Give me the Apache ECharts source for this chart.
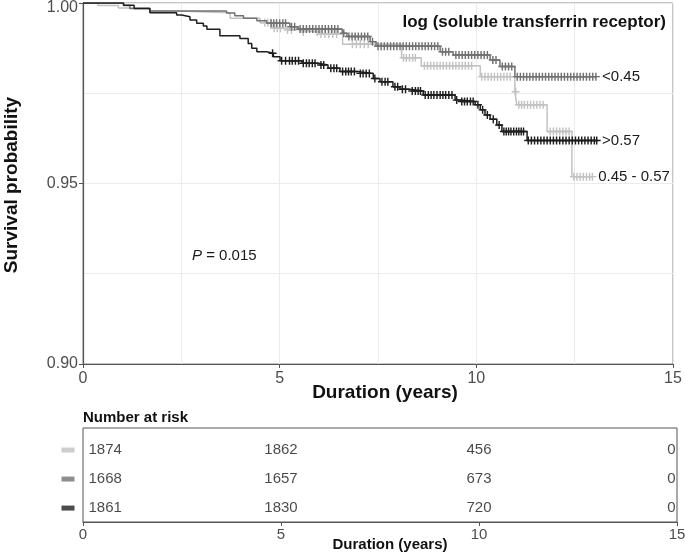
<!DOCTYPE html>
<html><head><meta charset="utf-8">
<script src="https://cdn.jsdelivr.net/npm/echarts@6/dist/echarts.min.js"></script>
<style>html,body{margin:0;padding:0;background:#fff}#c{width:685px;height:553px}</style>
</head><body><div id="c"></div>
<script>
// ---------- DATA ----------
const groupNames = ['0.45 - 0.57', '<0.45', '>0.57'];

// Kaplan-Meier step points (time in years, survival from that time on)
const timesLight = [0, 0.38, 0.9, 1.7, 2.4, 3.74, 4.5, 4.8, 5.1, 5.5, 6.0, 6.6, 8.1, 8.6, 10.1, 10.98, 11.03, 11.8, 12.43, 12.97];
const survLight  = [1, 0.9993, 0.9986, 0.9978, 0.9973, 0.9958, 0.9945, 0.9930, 0.9925, 0.9920, 0.9914, 0.9886, 0.9848, 0.9826, 0.9796, 0.9754, 0.9718, 0.9644, 0.9519, 0.9519];

const timesMid = [0, 1.03, 1.19, 1.7, 3.65, 3.86, 4.08, 4.42, 4.67, 5.26, 5.47, 6.59, 6.71, 7.3, 7.45, 9.08, 9.41, 10.35, 10.6, 10.98, 13.07];
const survMid  = [1, 0.9993, 0.9985, 0.9978, 0.9972, 0.9965, 0.9958, 0.9951, 0.9944, 0.9934, 0.9928, 0.9916, 0.9907, 0.9893, 0.9880, 0.9865, 0.9856, 0.9842, 0.9824, 0.9796, 0.9796];

const timesDark = [0, 1.03, 1.3, 1.7, 2.38, 2.51, 2.72, 2.89, 3.06, 3.15, 3.48, 3.99, 4.2, 4.29, 4.42, 4.67, 4.84, 5.01, 5.57, 5.98, 6.23, 6.53, 6.97, 7.38, 7.55, 7.88, 8.06, 8.31, 8.65, 9.46, 9.59, 9.97, 10.1, 10.22, 10.35, 10.52, 10.65, 11.29, 13.07];
const survDark  = [1, 0.9994, 0.9985, 0.9973, 0.9967, 0.9962, 0.9953, 0.9944, 0.9936, 0.9927, 0.9909, 0.9902, 0.9888, 0.9875, 0.9865, 0.9861, 0.9851, 0.9840, 0.9833, 0.9828, 0.9819, 0.9810, 0.9805, 0.9791, 0.9782, 0.9768, 0.9761, 0.9756, 0.9745, 0.9731, 0.9727, 0.9718, 0.9704, 0.9690, 0.9678, 0.9662, 0.9644, 0.9619, 0.9619];

// Censoring times (years)
const censorLight = [4.62, 4.7, 4.78, 4.86, 4.94, 5.02, 5.2, 5.3, 5.6, 5.95, 6.05, 6.15, 6.25, 6.35, 6.45, 6.85, 6.95, 7.05, 7.15, 7.25, 8.15, 8.22, 8.3, 8.38, 8.45, 8.68, 8.76, 8.84, 8.92, 9.0, 9.08, 9.16, 9.24, 9.32, 9.4, 9.48, 9.56, 9.64, 9.72, 9.8, 9.88, 10.14, 10.22, 10.3, 10.38, 10.46, 10.54, 10.62, 10.7, 10.78, 10.86, 11.0, 11.08, 11.15, 11.22, 11.3, 11.38, 11.46, 11.54, 11.62, 11.7, 11.88, 11.96, 12.04, 12.12, 12.2, 12.28, 12.36, 12.48, 12.56, 12.64, 12.72, 12.8, 12.88, 12.95];
const censorMid = [4.78, 4.85, 4.92, 5.0, 5.08, 5.15, 5.3, 5.38, 5.52, 5.6, 5.68, 5.76, 5.84, 5.92, 6.0, 6.08, 6.16, 6.24, 6.32, 6.4, 6.48, 6.63, 6.76, 6.84, 6.92, 7.0, 7.08, 7.16, 7.24, 7.36, 7.5, 7.58, 7.66, 7.74, 7.82, 7.9, 7.98, 8.06, 8.14, 8.22, 8.3, 8.38, 8.46, 8.54, 8.62, 8.7, 8.78, 8.86, 8.94, 9.02, 9.14, 9.22, 9.3, 9.48, 9.56, 9.64, 9.72, 9.8, 9.88, 9.96, 10.04, 10.12, 10.2, 10.28, 10.42, 10.5, 10.66, 10.74, 10.82, 10.9, 11.04, 11.12, 11.2, 11.28, 11.36, 11.44, 11.52, 11.6, 11.68, 11.76, 11.84, 11.92, 12.0, 12.08, 12.16, 12.24, 12.32, 12.4, 12.48, 12.56, 12.64, 12.72, 12.8, 12.88, 12.96, 13.04];
const censorDark = [4.82, 5.05, 5.15, 5.25, 5.32, 5.4, 5.48, 5.6, 5.68, 5.75, 5.83, 5.9, 6.05, 6.12, 6.3, 6.38, 6.45, 6.6, 6.68, 6.75, 6.82, 6.9, 7.05, 7.12, 7.2, 7.28, 7.42, 7.6, 7.68, 7.75, 7.93, 8.0, 8.12, 8.2, 8.37, 8.45, 8.52, 8.58, 8.7, 8.78, 8.85, 8.92, 9.0, 9.08, 9.15, 9.22, 9.3, 9.38, 9.5, 9.63, 9.7, 9.77, 9.85, 9.92, 10.04, 10.16, 10.28, 10.43, 10.58, 10.7, 10.76, 10.82, 10.88, 10.95, 11.02, 11.08, 11.14, 11.2, 11.32, 11.4, 11.48, 11.56, 11.64, 11.72, 11.8, 11.88, 11.96, 12.04, 12.12, 12.2, 12.28, 12.36, 12.44, 12.52, 12.6, 12.68, 12.76, 12.84, 12.92, 13.0, 13.06];

// Number at risk table
const riskTimes = [0, 5, 10, 15];
const riskLight = [1874, 1862, 456, 0];
const riskMid   = [1668, 1657, 673, 0];
const riskDark  = [1861, 1830, 720, 0];

const yTickLabels = ['0.90', '0.95', '1.00'];
const xTickLabels = ['0', '5', '10', '15'];
const pValueText = '0.015';

// ---------- STYLE ----------
const colors = ['#c2c2c2', '#727272', '#1e1e1e'];
const FONT = 'Liberation Sans, Arial, Helvetica, sans-serif';
const PLUS = 'path://M0,4.1H10V5.9H0Z M4.1,0H5.9V10H4.1Z';
const CLEAR = 'rgba(0,0,0,0)';

const groups = [
  {times: timesLight, surv: survLight, censor: censorLight, risk: riskLight},
  {times: timesMid, surv: survMid, censor: censorMid, risk: riskMid},
  {times: timesDark, surv: survDark, censor: censorDark, risk: riskDark}
];

function survAt(times, surv, t) {
  let s = surv[0];
  for (let i = 0; i < times.length; i++) if (times[i] <= t) s = surv[i];
  return s;
}

const series = [];
const last = riskTimes.length - 1;
groups.forEach((g, k) => {
  series.push({
    type: 'line', name: groupNames[k], xAxisIndex: 0, yAxisIndex: 0,
    step: 'end', showSymbol: false, symbol: 'none', silent: true,
    data: g.times.map((t, i) => [t, g.surv[i]]),
    lineStyle: {color: colors[k], width: 1.5},
    itemStyle: {color: colors[k]},
    endLabel: {show: true, formatter: groupNames[k], distance: 5, color: '#1a1a1a', fontSize: 15, fontFamily: FONT},
    z: 2 + k
  });
  series.push({
    type: 'scatter', xAxisIndex: 0, yAxisIndex: 0, silent: true,
    symbol: PLUS, symbolSize: 8,
    itemStyle: {color: colors[k], opacity: 1},
    data: g.censor.map(t => [t, survAt(g.times, g.surv, t)]),
    z: 2 + k
  });
  // risk table row (numbers)
  series.push({
    type: 'scatter', xAxisIndex: 1, yAxisIndex: 1, silent: true,
    symbol: 'circle', symbolSize: 1, itemStyle: {color: CLEAR}, clip: false,
    data: riskTimes.map((t, j) => ({
      value: [t, k],
      name: String(g.risk[j]),
      label: {
        show: true,
        position: j === 0 ? 'right' : (j === last ? 'left' : 'inside'),
        distance: j === 0 ? 5 : 1,
        formatter: String(g.risk[j]),
        color: '#1a1a1a', fontSize: 15, fontFamily: FONT
      }
    })),
    z: 5
  });
  // legend swatch to the left of the row
  series.push({
    type: 'scatter', xAxisIndex: 1, yAxisIndex: 1, silent: true,
    symbol: 'circle', symbolSize: 1, itemStyle: {color: CLEAR}, clip: false,
    data: [{value: [0, k]}],
    label: {show: true, position: 'left', distance: 8, formatter: '{sw|}',
      rich: {sw: {width: 13, height: 5, backgroundColor: colors[k]}}},
    z: 5
  });
});

const chart = echarts.init(document.getElementById('c'), null, {renderer: 'canvas'});
chart.setOption({
  animation: false,
  backgroundColor: '#ffffff',
  grid: [
    {left: 83, top: 3, width: 590, height: 361, show: true, borderColor: '#8a8a8a', borderWidth: 1,
      containLabel: false, outerBoundsMode: 'none'},
    {left: 83, top: 428, width: 594, height: 94, show: true, borderColor: '#555555', borderWidth: 1,
      containLabel: false, outerBoundsMode: 'none'}
  ],
  xAxis: [
    {type: 'value', gridIndex: 0, min: 0, max: 15, interval: 5,
      axisLine: {show: true, onZero: false, lineStyle: {color: '#555', width: 1.2}},
      axisTick: {show: true, length: 4, lineStyle: {color: '#555'}},
      axisLabel: {color: '#4d4d4d', fontSize: 16, fontFamily: FONT, margin: 7,
        formatter: v => xTickLabels[Math.round(v / 5)]},
      splitLine: {show: true, lineStyle: {color: '#ebebeb', width: 1}},
      minorTick: {show: false, splitNumber: 2},
      minorSplitLine: {show: true, lineStyle: {color: '#ebebeb', width: 1}}
    },
    {type: 'value', gridIndex: 1, min: 0, max: 15, interval: 5,
      axisLine: {show: true, onZero: false, lineStyle: {color: '#555', width: 1}},
      axisTick: {show: true, length: 4, lineStyle: {color: '#555'}},
      axisLabel: {color: '#4d4d4d', fontSize: 15, fontFamily: FONT, margin: 5,
        formatter: v => xTickLabels[Math.round(v / 5)]},
      splitLine: {show: false}
    }
  ],
  yAxis: [
    {type: 'value', gridIndex: 0, min: 0.9, max: 1.0, interval: 0.05,
      axisLine: {show: true, onZero: false, lineStyle: {color: '#555', width: 1.2}},
      axisTick: {show: true, length: 4, lineStyle: {color: '#555'}},
      axisLabel: {color: '#4d4d4d', fontSize: 16, fontFamily: FONT, margin: 5,
        formatter: v => {
          const i = Math.round((v - 0.9) / 0.05);
          return i === yTickLabels.length - 1 ? '{t|' + yTickLabels[i] + '}' : yTickLabels[i];
        },
        rich: {t: {color: '#4d4d4d', fontSize: 16, fontFamily: FONT, padding: [9, 0, 0, 0]}}},
      splitLine: {show: true, lineStyle: {color: '#ebebeb', width: 1}},
      minorTick: {show: false, splitNumber: 2},
      minorSplitLine: {show: true, lineStyle: {color: '#ebebeb', width: 1}}
    },
    {type: 'value', gridIndex: 1, min: -0.76, max: 2.48, inverse: true, show: false}
  ],
  graphic: [
    {type: 'text', x: 12, y: 185, rotation: Math.PI / 2, z: 10,
      style: {text: 'Survival probability', fontSize: 19, fontWeight: 'bold', fontFamily: FONT, fill: '#111', textAlign: 'center', textVerticalAlign: 'middle'}},
    {type: 'text', x: 385, y: 393, z: 10,
      style: {text: 'Duration (years)', fontSize: 19, fontWeight: 'bold', fontFamily: FONT, fill: '#111', textAlign: 'center', textVerticalAlign: 'middle'}},
    {type: 'text', x: 666, y: 22, z: 10,
      style: {text: 'log (soluble transferrin receptor)', fontSize: 17, fontWeight: 'bold', fontFamily: FONT, fill: '#111', textAlign: 'right', textVerticalAlign: 'middle'}},
    {type: 'text', x: 192, y: 256, z: 10,
      style: {text: '{i|P} = ' + pValueText, fontSize: 15, fontFamily: FONT, fill: '#1a1a1a', textAlign: 'left', textVerticalAlign: 'middle',
        rich: {i: {fontStyle: 'italic', fontSize: 15, fontFamily: FONT, fill: '#1a1a1a'}}}},
    {type: 'text', x: 83, y: 418, z: 10,
      style: {text: 'Number at risk', fontSize: 15, fontWeight: 'bold', fontFamily: FONT, fill: '#111', textAlign: 'left', textVerticalAlign: 'middle'}},
    {type: 'text', x: 390, y: 545, z: 10,
      style: {text: 'Duration (years)', fontSize: 15, fontWeight: 'bold', fontFamily: FONT, fill: '#111', textAlign: 'center', textVerticalAlign: 'middle'}}
  ],
  series: series
});
</script>
</body></html>
